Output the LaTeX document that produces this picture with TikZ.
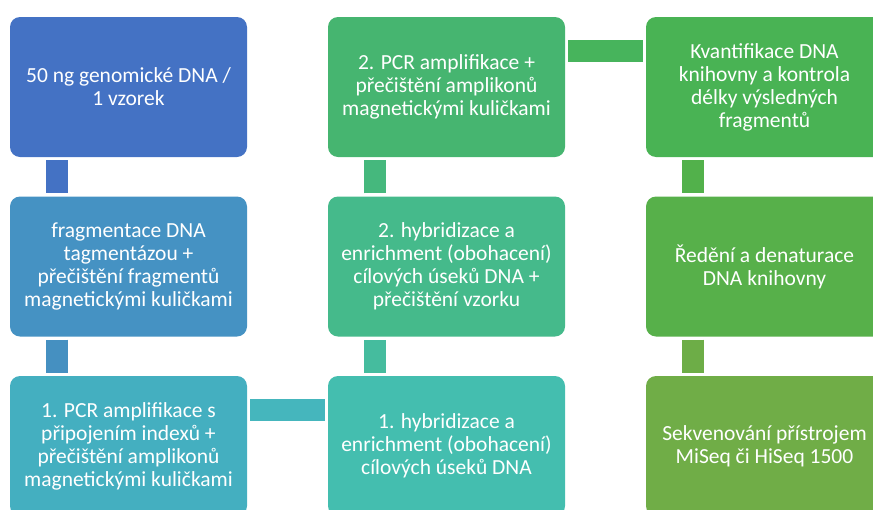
\documentclass[tikz,border=0pt]{standalone}
\usepackage{fontspec}
\setmainfont{Carlito}
\definecolor{b1}{HTML}{4472C4}
\definecolor{b2}{HTML}{4592C3}
\definecolor{b3}{HTML}{44AFC0}
\definecolor{b4}{HTML}{44BEAF}
\definecolor{b5}{HTML}{45BA8B}
\definecolor{b6}{HTML}{46B570}
\definecolor{b7}{HTML}{49B354}
\definecolor{b8}{HTML}{57B04A}
\definecolor{b9}{HTML}{70AD47}
\definecolor{k1}{HTML}{4472C4}
\definecolor{k2}{HTML}{4590C1}
\definecolor{k3}{HTML}{45B6BD}
\definecolor{k4}{HTML}{45BC9E}
\definecolor{k5}{HTML}{45B87D}
\definecolor{k6}{HTML}{47B45C}
\definecolor{k7}{HTML}{52B14B}
\definecolor{k8}{HTML}{6DAD47}
\tikzset{
  stepbox/.style={rectangle, rounded corners=10pt, minimum width=237pt, minimum height=140pt,
    inner sep=0pt, text=white, align=center, font=\fontsize{21.5}{23}\selectfont},
  conn/.style={line width=22pt, shorten <=3pt, shorten >=3pt}
}
\begin{document}
\begin{tikzpicture}
\useasboundingbox (0,0) rectangle (873pt,-509pt);
\clip (0,0) rectangle (873pt,-509pt);
\begin{scope}[x=1pt,y=-1pt]
\node[stepbox, fill=b1] (n1) at (128.5,87) {50 ng genomické DNA /\\1 vzorek};
\node[stepbox, fill=b2] (n2) at (128.5,266.5) {fragmentace DNA\\tagmentázou +\\přečištění fragmentů\\magnetickými kuličkami};
\node[stepbox, fill=b3] (n3) at (128.5,446) {1. PCR amplifikace s\\připojením indexů +\\přečištění amplikonů\\magnetickými kuličkami};
\node[stepbox, fill=b4] (n4) at (446.5,446) {1. hybridizace a\\enrichment (obohacení)\\cílových úseků DNA};
\node[stepbox, fill=b5] (n5) at (446.5,266.5) {2. hybridizace a\\enrichment (obohacení)\\cílových úseků DNA +\\přečištění vzorku};
\node[stepbox, fill=b6] (n6) at (446.5,87) {2. PCR amplifikace +\\přečištění amplikonů\\magnetickými kuličkami};
\node[stepbox, fill=b7] (n7) at (764.5,87) {Kvantifikace DNA\\knihovny a kontrola\\délky výsledných\\fragmentů};
\node[stepbox, fill=b8] (n8) at (764.5,266.5) {Ředění a denaturace\\DNA knihovny};
\node[stepbox, fill=b9] (n9) at (764.5,446) {Sekvenování přístrojem\\MiSeq či HiSeq 1500};
\end{scope}
\draw[conn, k1] ([xshift=47pt]n1.south west) -- ([xshift=47pt]n2.north west);
\draw[conn, k2] ([xshift=47pt]n2.south west) -- ([xshift=47pt]n3.north west);
\draw[conn, k3] ([yshift=-34pt]n3.north east) -- ([yshift=-34pt]n4.north west);
\draw[conn, k4] ([xshift=47pt]n4.north west) -- ([xshift=47pt]n5.south west);
\draw[conn, k5] ([xshift=47pt]n5.north west) -- ([xshift=47pt]n6.south west);
\draw[conn, k6] ([yshift=-34pt]n6.north east) -- ([yshift=-34pt]n7.north west);
\draw[conn, k7] ([xshift=47pt]n7.south west) -- ([xshift=47pt]n8.north west);
\draw[conn, k8] ([xshift=47pt]n8.south west) -- ([xshift=47pt]n9.north west);
\end{tikzpicture}
\end{document}
